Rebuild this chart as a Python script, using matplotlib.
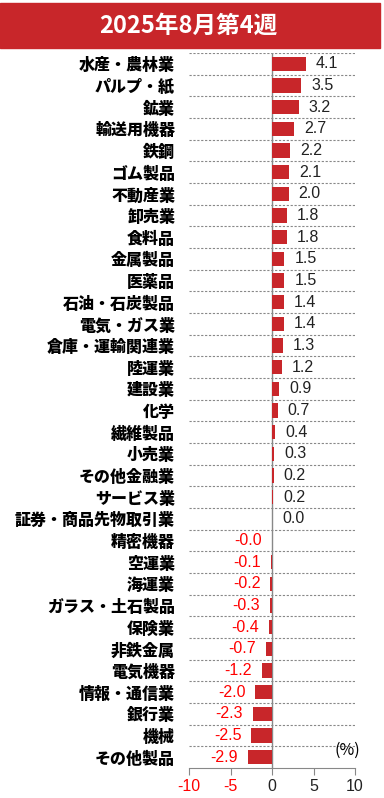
import numpy as np
import matplotlib.pyplot as plt
from matplotlib.patches import Rectangle

categories = ['水産・農林業', 'パルプ・紙', '鉱業', '輸送用機器', '鉄鋼', 'ゴム製品', '不動産業',
              '卸売業', '食料品', '金属製品', '医薬品', '石油・石炭製品', '電気・ガス業',
              '倉庫・運輸関連業', '陸運業', '建設業', '化学', '繊維製品', '小売業', 'その他金融業',
              'サービス業', '証券・商品先物取引業', '精密機器', '空運業', '海運業', 'ガラス・土石製品',
              '保険業', '非鉄金属', '電気機器', '情報・通信業', '銀行業', '機械', 'その他製品']
values = [4.1, 3.5, 3.2, 2.7, 2.2, 2.1, 2.0, 1.8, 1.8, 1.5, 1.5, 1.4, 1.4, 1.3, 1.2, 0.9,
          0.7, 0.4, 0.3, 0.2, 0.17, 0.02, -0.04, -0.1, -0.2, -0.3, -0.4, -0.7, -1.2, -2.0,
          -2.3, -2.5, -2.9]
xticks = [-10, -5, 0, 5, 10]
title = '2025年8月第4週'

red = '#C8262A'
jp = ['Noto Sans CJK JP', 'DejaVu Sans']
num = ['Liberation Sans', 'DejaVu Sans']

fig = plt.figure(figsize=(3.84, 7.98), dpi=100)

# title banner
fig.patches.append(Rectangle((0, 1 - 48 / 798), 380 / 384, 45 / 798,
                             transform=fig.transFigure, color=red, zorder=0))
fig.text(188 / 384, 1 - 26 / 798, title, color='white', fontsize=17,
         fontweight='bold', family=jp, ha='center', va='center')

ax = fig.add_axes([189 / 384, 30 / 798, 166 / 384, 715 / 798])
n = len(categories)
y = np.arange(n)
ax.barh(y, values, height=0.66, color=red, zorder=3)
ax.set_xlim(-10, 10)
ax.set_ylim(n - 0.5, -0.5)

for k in range(n):
    ax.axhline(k - 0.5, color='#888888', lw=0.8, ls=(0, (2, 1.5)), zorder=1)
ax.axvline(0, color='#888888', lw=1.0, zorder=2)

for yi, v in zip(y, values):
    s = f'{v:.1f}'
    if s.startswith('-'):
        ax.text(v - 1.2, yi, s, ha='right', va='center', color='#FF0000',
                fontsize=11.5, family=num)
    else:
        ax.text(v + 1.2, yi, s, ha='left', va='center', color='#222222',
                fontsize=11.5, family=num)

ax.set_yticks(y)
ax.set_yticklabels(categories, fontsize=11.5, fontweight='heavy', family=jp)
ax.tick_params(axis='y', length=0, pad=10)
ax.set_xticks(xticks)
ax.set_xticklabels([str(t) for t in xticks], fontsize=11.5, family=num)
for lbl, t in zip(ax.get_xticklabels(), xticks):
    lbl.set_color('#FF0000' if t < 0 else '#222222')
ax.tick_params(axis='x', length=5, color='#888888', pad=3)

for sp in ['top', 'right', 'left']:
    ax.spines[sp].set_visible(False)
ax.spines['bottom'].set_color('#888888')

ax.text(1.03, n - 1.3, '(%)', transform=ax.get_yaxis_transform(), ha='right',
        va='center', fontsize=11.5, family=jp)

fig.savefig('out.png', dpi=100)
